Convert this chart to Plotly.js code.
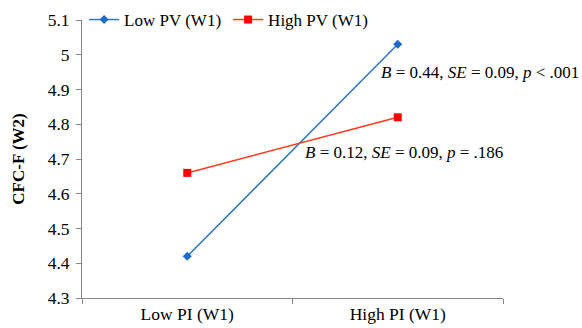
<!DOCTYPE html>
<html>
<head>
<meta charset="utf-8">
<script src="https://cdn.plot.ly/plotly-3.0.1.min.js"></script>
<style>html,body{margin:0;padding:0;background:#fff;}#chart{width:582px;height:328px;}</style>
</head>
<body>
<div id="chart"></div>
<script>
var categories = ['Low PI (W1)', 'High PI (W1)'];
var lowPV = [4.42, 5.03];
var highPV = [4.66, 4.82];
var seriesNames = ['Low PV (W1)', 'High PV (W1)'];
var yTicks = [4.3, 4.4, 4.5, 4.6, 4.7, 4.8, 4.9, 5, 5.1];
var yTickText = ['4.3', '4.4', '4.5', '4.6', '4.7', '4.8', '4.9', '5', '5.1'];
var annoTexts = ['<i>B</i> = 0.44, <i>SE</i> = 0.09, <i>p</i> &lt; .001', '<i>B</i> = 0.12, <i>SE</i> = 0.09, <i>p</i> = .186'];

var font = 'Liberation Serif';
var traces = [
  {x: categories, y: lowPV, name: seriesNames[0], type: 'scatter', mode: 'lines+markers',
   line: {color: '#2F75C8', width: 1.5}, marker: {symbol: 'diamond', size: 7, color: '#1E6CC8'}},
  {x: categories, y: highPV, name: seriesNames[1], type: 'scatter', mode: 'lines+markers',
   line: {color: '#FF3A1E', width: 1.5}, marker: {symbol: 'square', size: 8, color: '#FF0000'}}
];
var layout = {
  width: 582, height: 328,
  margin: {l: 82, r: 79, t: 20, b: 30, autoexpand: false},
  paper_bgcolor: '#fff', plot_bgcolor: '#fff',
  font: {family: font, size: 17, color: '#000'},
  showlegend: true,
  legend: {orientation: 'h', x: 0.005, y: 1, xanchor: 'left', yanchor: 'middle',
           entrywidth: 99, entrywidthmode: 'pixels', font: {family: font, size: 17}, bgcolor: 'rgba(0,0,0,0)'},
  xaxis: {type: 'category', range: [-0.5, 1.5], tickson: 'boundaries', ticks: 'outside', ticklen: 5,
          tickcolor: '#868686', showline: true, linecolor: '#868686', linewidth: 1, showgrid: false,
          zeroline: false, automargin: false, tickfont: {family: font, size: 17.5}},
  yaxis: {range: [4.3, 5.1], tickvals: yTicks, ticktext: yTickText, ticks: 'outside', ticklen: 5,
          ticklabelstandoff: 3,
          tickcolor: '#868686', showline: true, linecolor: '#868686', linewidth: 1, showgrid: false,
          zeroline: false, automargin: false, tickfont: {family: font, size: 17.5},
          title: {text: '<b>CFC-F (W2)</b>', font: {family: font, size: 17}, standoff: 18}},
  annotations: [
    {xref: 'paper', yref: 'y', x: 0.706, y: 4.95, xanchor: 'left', yanchor: 'middle', text: annoTexts[0], showarrow: false, font: {family: font, size: 17}},
    {xref: 'paper', yref: 'y', x: 0.525, y: 4.72, xanchor: 'left', yanchor: 'middle', text: annoTexts[1], showarrow: false, font: {family: font, size: 17}}
  ]
};
Plotly.newPlot('chart', traces, layout, {displayModeBar: false, staticPlot: true});
</script>
</body>
</html>
